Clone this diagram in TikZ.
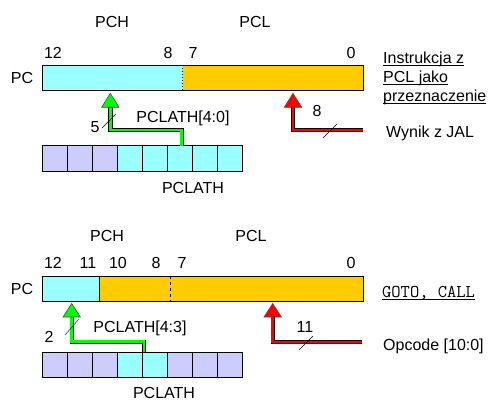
\documentclass[tikz,border=0pt]{standalone}
\usepackage{fontspec}
\setmainfont{Liberation Sans}
\definecolor{pchcyan}{HTML}{99FFFF}
\definecolor{pclgold}{HTML}{FFCC00}
\definecolor{latlav}{HTML}{CCCCFF}
\definecolor{busgreen}{HTML}{00FF00}
\definecolor{busred}{HTML}{FF0000}
\tikzset{
  lbl/.style={inner sep=0pt, font=\fontsize{16}{19.2}\selectfont, text height=11.5pt, text depth=0pt},
  regbox/.style={draw, line width=0.8pt},
  bus/.style={draw=black, line width=0.9pt, double distance=2.6pt},
  head/.style={draw=black!70, line width=0.6pt},
}
\newcommand{\ul}[1]{\underline{\smash{#1}}}
\begin{document}
\begin{tikzpicture}[x=1pt, y=-1pt]
\useasboundingbox (0,0) rectangle (504,420);
% instrukcja z PCL jako przeznaczenie
\fill[pchcyan] (42.7,65.3) rectangle (182.7,90);
\fill[pclgold] (182.7,65.3) rectangle (363.3,90);
\draw[dotted, line width=1pt] (182.7,65.3) -- (182.7,90);
\draw[regbox] (42.7,65.3) rectangle (363.3,90);
\foreach \c [count=\i from 0] in {latlav,latlav,latlav,pchcyan,pchcyan,pchcyan,pchcyan,pchcyan}
  \draw[regbox, fill=\c] ({42.7+\i*24.95},145.7) rectangle ++(24.95,25.3);
\node[lbl] (pchA) at (112,22) {PCH};
\node[lbl] (pclA) at (255,22) {PCL};
\node[lbl] (b12A) at (53,53) {12};
\node[lbl] (b8A) at (168,53) {8};
\node[lbl] (b7A) at (193,53) {7};
\node[lbl] (b0A) at (351,53) {0};
\node[lbl] (pcA) at (22,78) {PC};
\node[lbl] (latA) at (193,188) {PCLATH};
\node[lbl] (selA) at (183,117) {PCLATH[4:0]};
\node[lbl] (wA) at (95,127) {5};
\node[lbl] (nA) at (317,111) {8};
\node[lbl, anchor=west] (ins1) at (383,58) {\ul{Instrukcja z}};
\node[lbl, anchor=west] (ins2) at (383,77) {\ul{PCL jako}};
\node[lbl, anchor=west] (ins3) at (383,96) {\ul{przeznaczenie}};
\node[lbl, anchor=west] (jal) at (386,132) {Wynik z JAL};
\coordinate (gsrcA) at (181.7,145.7);
\coordinate (gdstA) at (110.3,107.3);
\coordinate (rsrcA) at (363.3,130);
\coordinate (rdstA) at (293,107.3);
\draw[bus, double=busgreen] (gsrcA) -- ++(0,-15.7) -| (gdstA);
\draw[bus, double=busred] (rsrcA) -| (rdstA);
\draw[head, fill=busgreen] (gdstA) ++(-8.7,0) -- ++(8.7,-14) -- ++(8.7,14) -- cycle;
\draw[head, fill=busred] (rdstA) ++(-8.7,0) -- ++(8.7,-14) -- ++(8.7,14) -- cycle;
\draw (109,121) ++(-7,7) -- ++(14,-14);
\draw (330,131) ++(-7,7) -- ++(14,-14);
% GOTO, CALL
\fill[pchcyan] (42.7,276) rectangle (99.3,301);
\fill[pclgold] (99.3,276) rectangle (363.3,301);
\draw[regbox] (99.3,276) -- (99.3,301);
\draw[dashed, line width=0.8pt] (170.3,276) -- (170.3,301);
\draw[regbox] (42.7,276) rectangle (363.3,301);
\foreach \c [count=\i from 0] in {latlav,latlav,latlav,pchcyan,pchcyan,latlav,latlav,latlav}
  \draw[regbox, fill=\c] ({42.7+\i*24.95},352.3) rectangle ++(24.95,25);
\node[lbl] (pchB) at (107,236) {PCH};
\node[lbl] (pclB) at (251,236) {PCL};
\node[lbl] (b12B) at (53,263) {12};
\node[lbl] (b11B) at (88,263) {11};
\node[lbl] (b10B) at (118,263) {10};
\node[lbl] (b8B) at (156,263) {8};
\node[lbl] (b7B) at (182,263) {7};
\node[lbl] (b0B) at (351,263) {0};
\node[lbl] (pcB) at (22,289) {PC};
\node[lbl] (latB) at (164,393) {PCLATH};
\node[lbl] (selB) at (140,327) {PCLATH[4:3]};
\node[lbl] (wB) at (49,337) {2};
\node[lbl] (nB) at (305,327) {11};
\node[lbl, anchor=west, font=\ttfamily\fontsize{18}{19.2}\selectfont] (gotocall) at (382,292) {\ul{GOTO, CALL}};
\node[lbl, anchor=west] (opc) at (383,345) {Opcode [10:0]};
\coordinate (gsrcB) at (144,352.3);
\coordinate (gdstB) at (71.7,317);
\coordinate (rsrcB) at (361.7,342);
\coordinate (rdstB) at (272.7,317);
\draw[bus, double=busgreen] (gsrcB) -- ++(0,-10.6) -| (gdstB);
\draw[bus, double=busred] (rsrcB) -| (rdstB);
\draw[head, fill=busgreen] (gdstB) ++(-8.7,0) -- ++(8.7,-13.5) -- ++(8.7,13.5) -- cycle;
\draw[head, fill=busred] (rdstB) ++(-8.7,0) -- ++(8.7,-13.5) -- ++(8.7,13.5) -- cycle;
\draw (72,327) ++(-7,8) -- ++(14,-16);
\draw (306,343) ++(-7,7) -- ++(14,-14);
\end{tikzpicture}
\end{document}
